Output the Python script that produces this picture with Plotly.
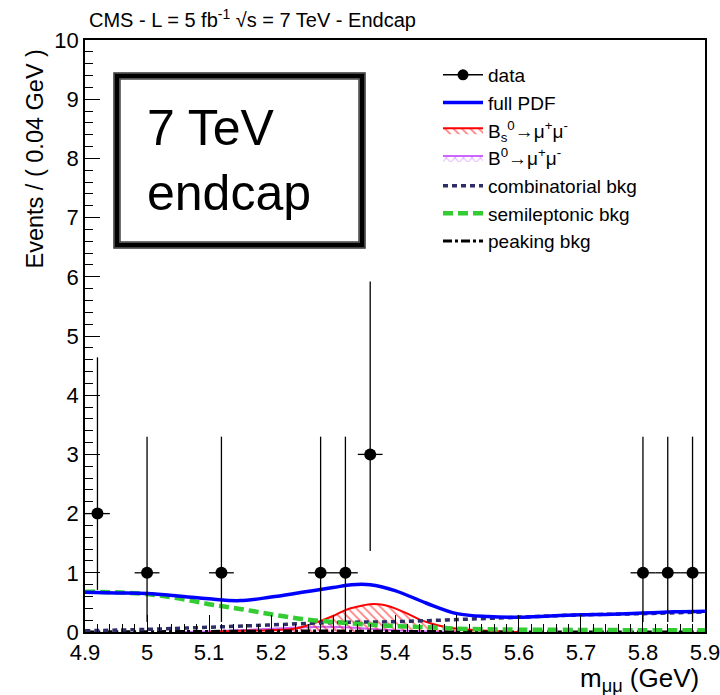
import plotly.graph_objects as go

# ---- binned data (bin width 0.04 GeV, empty bins omitted) ----
data_x = [4.92, 5.00, 5.12, 5.28, 5.32, 5.36, 5.80, 5.84, 5.88]
data_y = [2, 1, 1, 1, 1, 3, 1, 1, 1]
data_err_hi = [2.64, 2.30, 2.30, 2.30, 2.30, 2.92, 2.30, 2.30, 2.30]
data_err_lo = [1.29, 0.83, 0.83, 0.83, 0.83, 1.63, 0.83, 0.83, 0.83]
bin_half = 0.02

# ---- fitted PDF components (events / 0.04 GeV) ----
pdf_x = [4.90, 4.95, 5.00, 5.05, 5.10, 5.15, 5.20, 5.25, 5.30, 5.33, 5.36,
         5.40, 5.45, 5.50, 5.55, 5.60, 5.65, 5.70, 5.75, 5.80, 5.85, 5.90]
full_pdf = [0.67, 0.66, 0.65, 0.61, 0.56, 0.53, 0.59, 0.67, 0.75, 0.80, 0.80,
            0.70, 0.49, 0.31, 0.26, 0.25, 0.27, 0.29, 0.30, 0.32, 0.34, 0.35]

semi_x = [4.90, 4.95, 5.00, 5.05, 5.10, 5.15, 5.20, 5.25, 5.30, 5.35, 5.40,
          5.45, 5.50, 5.55, 5.60, 5.70, 5.80, 5.90]
semi_bkg = [0.68, 0.67, 0.64, 0.57, 0.47, 0.39, 0.30, 0.22, 0.17, 0.13, 0.10,
            0.08, 0.055, 0.045, 0.04, 0.035, 0.03, 0.03]

comb_x = [4.90, 5.00, 5.10, 5.20, 5.30, 5.40, 5.50, 5.60, 5.70, 5.80, 5.90]
comb_bkg = [0.02, 0.045, 0.08, 0.12, 0.16, 0.175, 0.21, 0.25, 0.29, 0.31, 0.34]

bs_x = [5.10, 5.15, 5.20, 5.24, 5.27, 5.30, 5.32, 5.34, 5.36, 5.38, 5.40,
        5.42, 5.44, 5.46, 5.48, 5.51, 5.55, 5.60]
bs_sig = [0.0, 0.02, 0.03, 0.06, 0.15, 0.27, 0.37, 0.43, 0.47, 0.46, 0.40,
          0.31, 0.21, 0.14, 0.09, 0.045, 0.02, 0.0]

bd_x = [5.05, 5.10, 5.15, 5.20, 5.25, 5.28, 5.31, 5.35, 5.40, 5.45, 5.50]
bd_sig = [0.0, 0.01, 0.03, 0.055, 0.08, 0.09, 0.085, 0.06, 0.03, 0.01, 0.0]

peak_x = [4.90, 5.00, 5.10, 5.20, 5.30, 5.40, 5.50, 5.60, 5.90]
peak_bkg = [0.0, 0.005, 0.01, 0.015, 0.015, 0.01, 0.005, 0.0, 0.0]

x_ticks = [4.9, 5.0, 5.1, 5.2, 5.3, 5.4, 5.5, 5.6, 5.7, 5.8, 5.9]
x_ticklabels = ["4.9", "5", "5.1", "5.2", "5.3", "5.4", "5.5", "5.6", "5.7", "5.8", "5.9"]

FONT = "Liberation Sans, Arial, sans-serif"

W, H = 720, 695
L, R, T, B = 85, 15, 40, 63
PW, PH = W - L - R, H - T - B


def px(xp):
    return (xp - L) / PW


def py(yp):
    return (H - B - yp) / PH


fig = go.Figure()

# signal shapes (hatched)
fig.add_trace(go.Scatter(
    x=bd_x, y=bd_sig, mode="lines", line=dict(color="#cc66ff", width=2, shape="spline"),
    fill="tozeroy", fillcolor="rgba(0,0,0,0)",
    fillpattern=dict(shape="x", fgcolor="#cc66ff", size=6, solidity=0.3),
    name="B<sup>0</sup>→μ<sup>+</sup>μ<sup>-</sup>", legendrank=4))
fig.add_trace(go.Scatter(
    x=bs_x, y=bs_sig, mode="lines", line=dict(color="red", width=2, shape="spline"),
    fill="tozeroy", fillcolor="rgba(0,0,0,0)",
    fillpattern=dict(shape="\\", fgcolor="red", size=6, solidity=0.3),
    name="B<sub>s</sub><sup>0</sup>→μ<sup>+</sup>μ<sup>-</sup>", legendrank=3))

# background components
fig.add_trace(go.Scatter(
    x=peak_x, y=peak_bkg, mode="lines",
    line=dict(color="black", width=3, dash="dashdot", shape="spline"),
    name="peaking bkg", legendrank=7))
fig.add_trace(go.Scatter(
    x=comb_x, y=comb_bkg, mode="lines",
    line=dict(color="#2e2e66", width=3.5, dash="5px,4px", shape="spline"),
    name="combinatorial bkg", legendrank=5))
fig.add_trace(go.Scatter(
    x=semi_x, y=semi_bkg, mode="lines",
    line=dict(color="#33cc33", width=4.5, dash="10px,5px", shape="spline"),
    name="semileptonic bkg", legendrank=6))

# total fit
fig.add_trace(go.Scatter(
    x=pdf_x, y=full_pdf, mode="lines",
    line=dict(color="blue", width=3.5, shape="spline"),
    name="full PDF", legendrank=2))

# data points with Poisson errors
fig.add_trace(go.Scatter(
    x=data_x, y=data_y, mode="markers",
    marker=dict(color="black", size=12, symbol="circle"),
    error_y=dict(type="data", symmetric=False, array=data_err_hi,
                 arrayminus=data_err_lo, color="black", thickness=1.3, width=0),
    error_x=dict(type="constant", value=bin_half, color="black", thickness=1.3, width=0),
    showlegend=False))
fig.add_trace(go.Scatter(
    x=[None], y=[None], mode="lines+markers",
    line=dict(color="black", width=1.5),
    marker=dict(color="black", size=11, symbol="circle"),
    name="data", legendrank=1))

# hand-drawn style frame around the label
shapes = []
for (x0, y0, x1, y1, w, c) in [
    (117, 76, 362, 245, 5, "black"),
    (114, 73, 365, 248, 1.5, "#333333"),
    (120, 79, 359, 242, 1.5, "#444444"),
]:
    shapes.append(dict(type="rect", xref="paper", yref="paper",
                       x0=px(x0), x1=px(x1), y0=py(y1), y1=py(y0),
                       line=dict(color=c, width=w)))

annotations = [
    dict(text="7 TeV", x=px(145), y=py(128), xref="paper", yref="paper",
         xanchor="left", yanchor="middle", showarrow=False,
         font=dict(family=FONT, size=50, color="black")),
    dict(text="endcap", x=px(145), y=py(193), xref="paper", yref="paper",
         xanchor="left", yanchor="middle", showarrow=False,
         font=dict(family=FONT, size=50, color="black")),
    dict(text="CMS - L = 5 fb<sup>-1</sup> √s = 7 TeV - Endcap",
         x=px(87), y=py(19), xref="paper", yref="paper",
         xanchor="left", yanchor="middle", showarrow=False,
         font=dict(family=FONT, size=20, color="black")),
    dict(text="Events / ( 0.04 GeV )", x=px(34), y=py(48), xref="paper", yref="paper",
         xanchor="center", yanchor="top", textangle=-90, showarrow=False,
         font=dict(family=FONT, size=23.5, color="black")),
    dict(text="m<sub>μμ</sub> (GeV)", x=px(701), y=py(679), xref="paper", yref="paper",
         xanchor="right", yanchor="middle", showarrow=False,
         font=dict(family=FONT, size=26, color="black")),
]

fig.update_layout(
    width=W, height=H,
    margin=dict(l=L, r=R, t=T, b=B),
    paper_bgcolor="white", plot_bgcolor="white",
    shapes=shapes, annotations=annotations,
    legend=dict(x=px(438), y=py(56), xanchor="left", yanchor="top",
                bgcolor="rgba(0,0,0,0)", font=dict(family=FONT, size=19, color="black"),
                itemwidth=40, traceorder="normal"),
    font=dict(family=FONT, color="black"),
)
fig.update_xaxes(
    range=[4.8999, 5.9001], showgrid=False, zeroline=False, automargin=False,
    showline=True, linecolor="black", linewidth=1.5, mirror=True,
    tickmode="array", tickvals=x_ticks, ticktext=x_ticklabels,
    ticklabeloverflow="allow",
    ticks="inside", ticklen=17, tickwidth=1, tickcolor="black",
    minor=dict(ticks="inside", ticklen=8, dtick=0.02, tickcolor="black", tickwidth=1),
    tickfont=dict(family=FONT, size=22, color="black"),
)
fig.update_yaxes(
    range=[0, 10], showgrid=False, zeroline=False, automargin=False,
    showline=True, linecolor="black", linewidth=1.5, mirror=True,
    dtick=1, tick0=0,
    ticks="inside", ticklen=15, tickwidth=1, tickcolor="black",
    minor=dict(ticks="inside", ticklen=8, dtick=0.2, tickcolor="black", tickwidth=1),
    tickfont=dict(family=FONT, size=22, color="black"),
)

fig.write_html("out.html")
